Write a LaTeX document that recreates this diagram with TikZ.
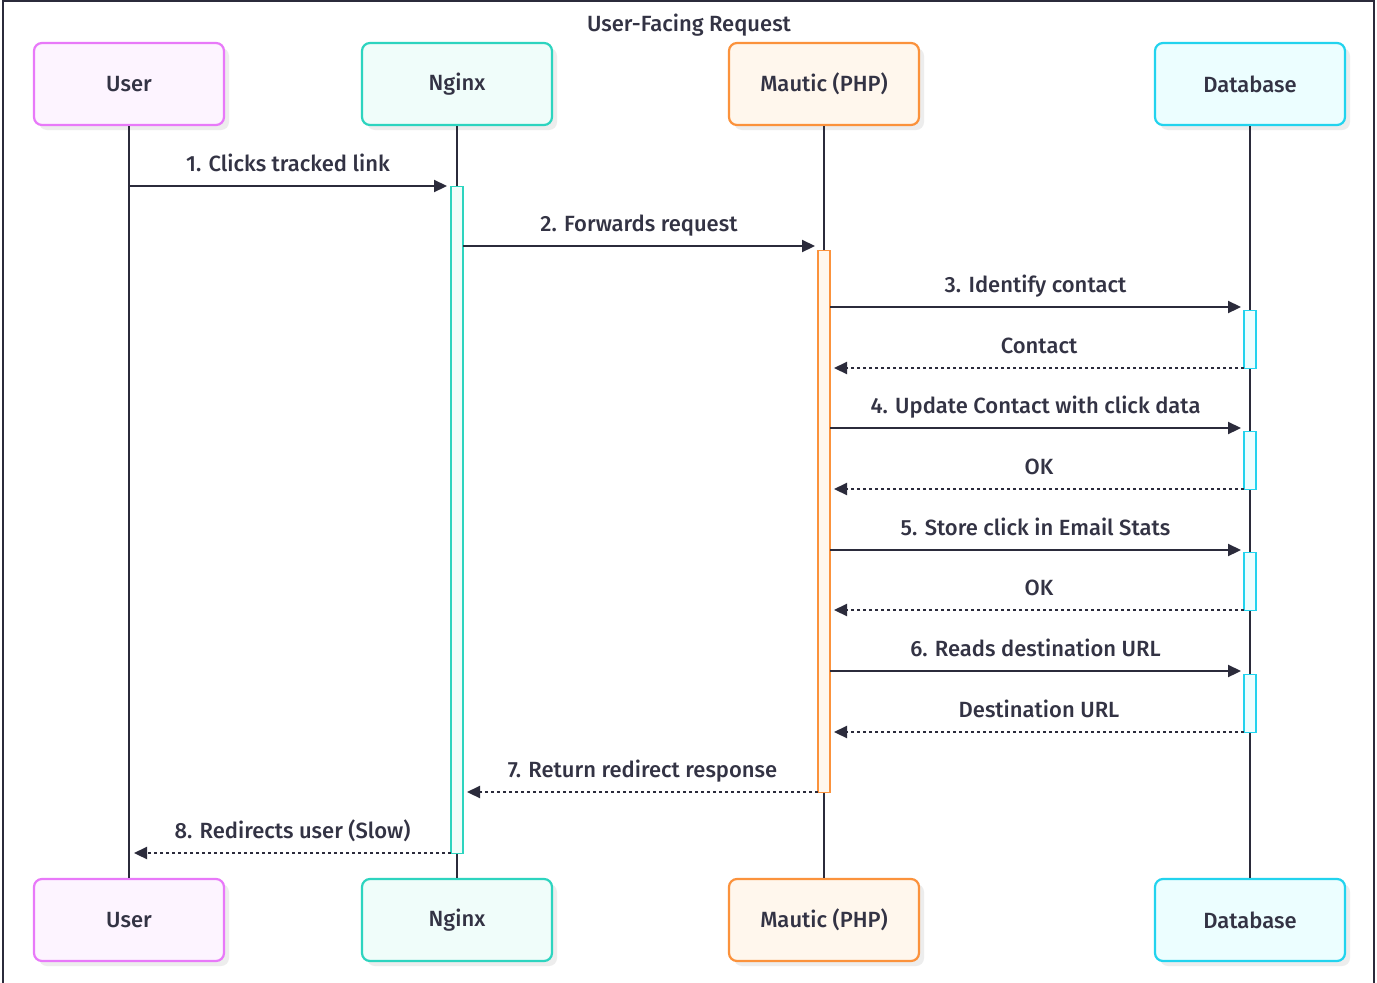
\documentclass[tikz,border=0pt]{standalone}
\usepackage{fontspec}
\setmainfont{Fira Sans}[UprightFont=* Medium]
\usetikzlibrary{arrows.meta,shadows}
\definecolor{ink}{HTML}{2B2B3B}
\definecolor{txt}{HTML}{333344}
\definecolor{uB}{HTML}{E879F9}\definecolor{uF}{HTML}{FDF4FF}
\definecolor{nB}{HTML}{2DD4BF}\definecolor{nF}{HTML}{F0FDFA}
\definecolor{mB}{HTML}{FB923C}\definecolor{mF}{HTML}{FFF7ED}
\definecolor{dB}{HTML}{22D3EE}\definecolor{dF}{HTML}{ECFEFF}
\tikzset{
  actor/.style={draw=#1B,fill=#1F,line width=2.2pt,rounded corners=8pt,
    minimum width=190pt,minimum height=82pt,inner sep=0pt,text=txt,
    font=\fontsize{22}{26}\selectfont,
    drop shadow={shadow xshift=5pt,shadow yshift=-5pt,fill=black!7,opacity=1}},
  bar/.style={draw=#1B,fill=#1F,line width=1.3pt,minimum width=12pt,inner sep=0pt,anchor=north},
  life/.style={draw=ink,line width=2.2pt},
  msg/.style={draw=ink,line width=2.2pt,-{Triangle[length=13pt,width=12pt]}},
  reply/.style={msg,dash pattern=on 3pt off 3pt},
  lbl/.style={text=txt,font=\fontsize{22}{26}\selectfont,inner sep=0pt,anchor=base,yshift=15pt},
}
\begin{document}
\begin{tikzpicture}[x=1pt,y=-1pt]
\useasboundingbox (0,0) rectangle (1377,983);
\fill[white] (0,0) rectangle (1377,983);
\draw[ink,line width=2pt] (3,983) -- (3,1) -- (1374,1) -- (1374,983);
\node[text=txt,font=\fontsize{22}{26}\selectfont,inner sep=0pt,anchor=base] (title) at (689,31) {User-Facing Request};
% actors
\node[actor=u] (uT) at (129,84) {User};
\node[actor=n] (nT) at (457,84) {Nginx};
\node[actor=m] (mT) at (824,84) {Mautic (PHP)};
\node[actor=d] (dT) at (1250,84) {Database};
\node[actor=u] (uB) at (129,920) {User};
\node[actor=n] (nB) at (457,920) {Nginx};
\node[actor=m] (mB) at (824,920) {Mautic (PHP)};
\node[actor=d] (dB) at (1250,920) {Database};
% lifelines
\draw[life] (uT.south) -- (uB.north);
\draw[life] (nT.south) -- (nB.north);
\draw[life] (mT.south) -- (mB.north);
\draw[life] (dT.south) -- (dB.north);
% activation bars
\node[bar=n,minimum height=667pt] (nA) at (457,186) {};
\node[bar=m,minimum height=542pt] (mA) at (824,250) {};
\node[bar=d,minimum height=58pt] (d1) at (1250,310) {};
\node[bar=d,minimum height=58pt] (d2) at (1250,431) {};
\node[bar=d,minimum height=58pt] (d3) at (1250,552) {};
\node[bar=d,minimum height=58pt] (d4) at (1250,674) {};
% coordinates
\coordinate (u1) at (129,186); \coordinate (n1) at (447,186);
\coordinate (n2) at (463,246); \coordinate (m2) at (815,246);
\coordinate (m3) at (830,307); \coordinate (d3a) at (1241,307);
\coordinate (d3b) at (1244,368); \coordinate (m3b) at (834,368);
\coordinate (m4) at (830,428); \coordinate (d4a) at (1241,428);
\coordinate (d4b) at (1244,489); \coordinate (m4b) at (834,489);
\coordinate (m5) at (830,550); \coordinate (d5a) at (1241,550);
\coordinate (d5b) at (1244,610); \coordinate (m5b) at (834,610);
\coordinate (m6) at (830,671); \coordinate (d6a) at (1241,671);
\coordinate (d6b) at (1244,732); \coordinate (m6b) at (834,732);
\coordinate (m7) at (818,792); \coordinate (n7) at (467,792);
\coordinate (n8) at (451,853); \coordinate (u8) at (134,853);
% messages
\draw[msg] (u1) -- node[lbl] {1. Clicks tracked link} (n1);
\draw[msg] (n2) -- node[lbl] {2. Forwards request} (m2);
\draw[msg] (m3) -- node[lbl] {3. Identify contact} (d3a);
\draw[reply] (d3b) -- node[lbl] {Contact} (m3b);
\draw[msg] (m4) -- node[lbl] {4. Update Contact with click data} (d4a);
\draw[reply] (d4b) -- node[lbl] {OK} (m4b);
\draw[msg] (m5) -- node[lbl] {5. Store click in Email Stats} (d5a);
\draw[reply] (d5b) -- node[lbl] {OK} (m5b);
\draw[msg] (m6) -- node[lbl] {6. Reads destination URL} (d6a);
\draw[reply] (d6b) -- node[lbl] {Destination URL} (m6b);
\draw[reply] (m7) -- node[lbl] {7. Return redirect response} (n7);
\draw[reply] (n8) -- node[lbl] {8. Redirects user (Slow)} (u8);
\end{tikzpicture}
\end{document}
